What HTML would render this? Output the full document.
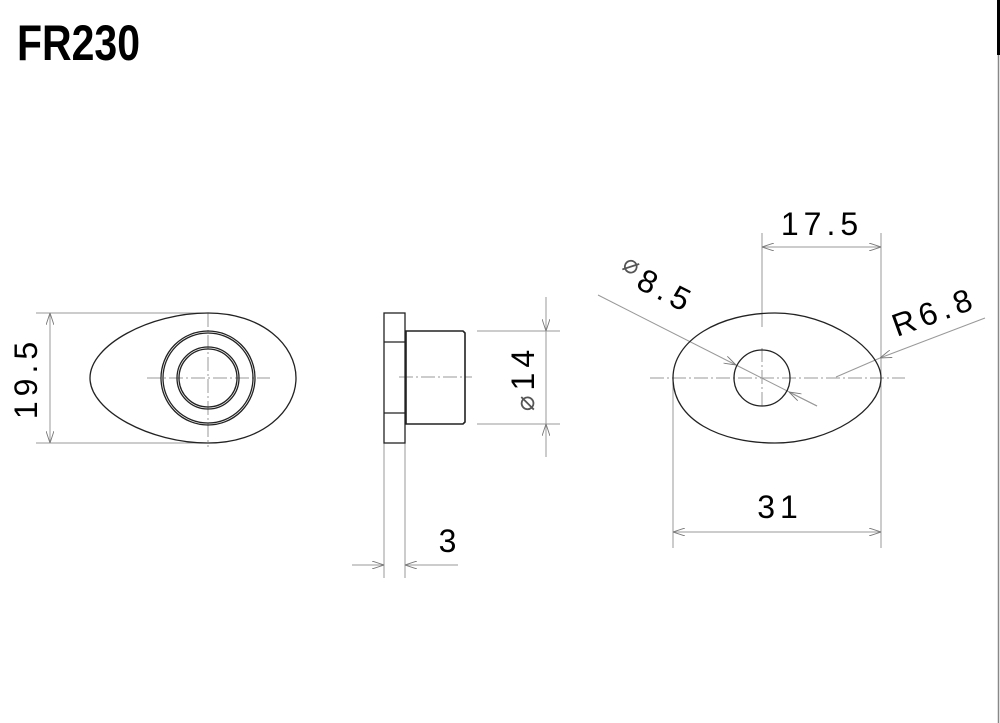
<!DOCTYPE html>
<html><head><meta charset="utf-8"><style>
html,body{margin:0;padding:0;background:#fff;}
svg{display:block}
text{font-family:"Liberation Sans",sans-serif;fill:#000}
</style></head><body>
<svg width="1000" height="723" viewBox="0 0 1000 723" xmlns="http://www.w3.org/2000/svg">
<defs>
<marker id="a" viewBox="0 0 12 8" refX="12" refY="4" markerWidth="12" markerHeight="8" markerUnits="userSpaceOnUse" orient="auto-start-reverse">
<path d="M0,0 L12,4 L0,8" fill="none" stroke="#777" stroke-width="0.9"/>
</marker>
</defs>
<rect x="997" y="0" width="3" height="55" fill="#000"/>
<line x1="998.5" y1="55" x2="998.5" y2="723" stroke="#888" stroke-width="1.5"/>
<text x="17" y="60" font-size="50" font-weight="bold" transform="translate(17 0) scale(0.82 1) translate(-17 0)">FR230</text>

<g fill="none" stroke="#999" stroke-width="1">
<line x1="36" y1="313" x2="205" y2="313"/>
<line x1="36" y1="443" x2="205" y2="443"/>
<line x1="50" y1="313" x2="50" y2="443" marker-start="url(#a)" marker-end="url(#a)"/>
<line x1="147" y1="378" x2="270" y2="378" stroke-dasharray="14 3 2 3"/>
<line x1="208" y1="313" x2="208" y2="447" stroke-dasharray="14 3 2 3"/>
<line x1="399" y1="377" x2="472" y2="377" stroke-dasharray="14 3 2 3"/>
<line x1="477" y1="331" x2="560" y2="331"/>
<line x1="477" y1="424" x2="560" y2="424"/>
<line x1="546" y1="297" x2="546" y2="331" marker-end="url(#a)"/>
<line x1="546" y1="457" x2="546" y2="424" marker-end="url(#a)"/>
<line x1="546" y1="331" x2="546" y2="424"/>
<line x1="384" y1="443" x2="384" y2="578"/>
<line x1="405" y1="443" x2="405" y2="578"/>
<line x1="352" y1="565" x2="384" y2="565" marker-end="url(#a)"/>
<line x1="458" y1="565" x2="405" y2="565" marker-end="url(#a)"/>
<line x1="650" y1="378" x2="905" y2="378" stroke-dasharray="14 3 2 3"/>
<line x1="762" y1="233" x2="762" y2="327"/>
<line x1="762" y1="348" x2="762" y2="407" stroke-dasharray="14 3 2 3"/>
<line x1="881" y1="233" x2="881" y2="548"/>
<line x1="673" y1="378" x2="673" y2="548"/>
<line x1="762" y1="247" x2="881" y2="247" marker-start="url(#a)" marker-end="url(#a)"/>
<line x1="673" y1="532" x2="881" y2="532" marker-start="url(#a)" marker-end="url(#a)"/>
<line x1="598" y1="295" x2="736" y2="365" marker-end="url(#a)"/>
<line x1="736" y1="365" x2="817" y2="406"/>
<line x1="817" y1="406" x2="789" y2="392" marker-end="url(#a)"/>
<line x1="985" y1="318" x2="880" y2="358" marker-end="url(#a)"/>
<line x1="880" y1="358" x2="836" y2="377"/>
</g>

<g fill="none" stroke="#222" stroke-width="1.3">
<path d="M90,378 C90,345 150,313 208,313 C262,313 296,345 296,378 C296,411 262,443 208,443 C150,443 90,411 90,378 Z"/>
<circle cx="208" cy="378" r="45"/>
<circle cx="208" cy="378" r="47"/>
<circle cx="208" cy="378" r="29"/>
<circle cx="208" cy="378" r="31"/>
<rect x="384" y="313" width="21" height="130"/>
<line x1="384" y1="342" x2="405" y2="342"/>
<line x1="384" y1="413" x2="405" y2="413"/>
<path d="M406,331 L463,331 L465,333 L465,422 L463,424 L406,424 Z" stroke-width="1.6"/>
<path d="M673,378 C673,340 720,313 775,313 C830,313 881,350 881,378 C881,410 830,443 775,443 C720,443 673,420 673,378 Z"/>
<circle cx="762" cy="378" r="28"/>
</g>

<g font-size="32" letter-spacing="5">
<text transform="translate(37 378) rotate(-90)" text-anchor="middle">19.5</text>
<text transform="translate(534 378) rotate(-90)" text-anchor="middle"><tspan font-size="26" fill="#555">⌀</tspan>14</text>
<text x="450" y="552" text-anchor="middle">3</text>
<text x="822" y="235" text-anchor="middle">17.5</text>
<text x="780" y="518" text-anchor="middle">31</text>
<text transform="translate(652 296) rotate(27)" text-anchor="middle"><tspan font-size="26" fill="#555" dy="-10">⌀</tspan><tspan dy="10">8.5</tspan></text>
<text transform="translate(938 322) rotate(-20)" text-anchor="middle">R6.8</text>
</g>
</svg>
</body></html>
